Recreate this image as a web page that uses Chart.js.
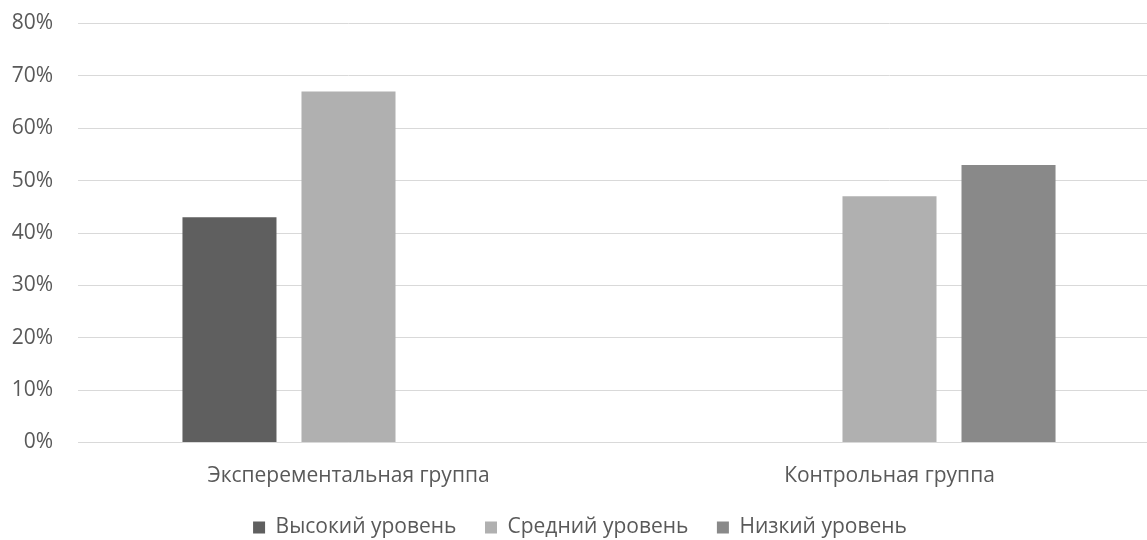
<!DOCTYPE html>
<html>
<head>
<meta charset="utf-8">
<script src="https://cdn.jsdelivr.net/npm/chart.js@4/dist/chart.umd.min.js"></script>
<style>
html,body{margin:0;padding:0;overflow:hidden;background:#fff;width:1147px;height:540px;}
#wrap{width:1160px;height:548px;}
</style>
</head>
<body>
<div id="wrap"><canvas id="c" width="1160" height="548"></canvas></div>
<script>
const categories = ["Эксперементальная группа", "Контрольная группа"];
const seriesNames = ["Высокий уровень", "Средний уровень", "Низкий уровень"];
const highLevel = [43, null];
const midLevel = [67, 47];
const lowLevel = [null, 53];
const seriesColors = ["#5f5f5f", "#b0b0b0", "#898989"];
const yTicks = [0, 10, 20, 30, 40, 50, 60, 70, 80];

const FONT = "'Open Sans', 'Noto Sans', sans-serif";
const TXT = "#595959";
const FS = 21;

new Chart(document.getElementById('c'), {
  type: 'bar',
  data: {
    labels: categories,
    datasets: [highLevel, midLevel, lowLevel].map((d, i) => ({
      label: seriesNames[i],
      data: d,
      backgroundColor: seriesColors[i],
      borderWidth: 0,
      categoryPercentage: 0.66,
      barPercentage: 0.79
    }))
  },
  options: {
    responsive: false,
    animation: false,
    layout: { padding: { top: 23.5, right: 0, bottom: 0, left: 0 } },
    plugins: {
      tooltip: { enabled: false },
      legend: {
        position: 'bottom',
        labels: {
          color: TXT,
          font: { family: FONT, size: FS },
          boxWidth: 12,
          boxHeight: 12,
          padding: 28.5
        }
      }
    },
    scales: {
      x: {
        grid: { display: false, drawTicks: false },
        border: { color: '#d9d9d9', width: 1 },
        ticks: { color: TXT, font: { family: FONT, size: FS }, padding: 20.5 },
        afterFit: s => { s.height = 46; s.paddingLeft = 0; s.paddingRight = 0; }
      },
      y: {
        min: 0, max: 80,
        afterBuildTicks: s => { s.ticks = yTicks.map(v => ({ value: v })); },
        grid: { color: '#d9d9d9', lineWidth: 1, drawTicks: false },
        border: { display: false },
        ticks: {
          color: TXT,
          font: { family: FONT, size: FS },
          padding: 25,
          callback: v => v + '%'
        },
        afterFit: s => { s.width = 78; s.paddingTop = 0; s.paddingBottom = 0; }
      }
    }
  }
});
</script>
</body>
</html>
